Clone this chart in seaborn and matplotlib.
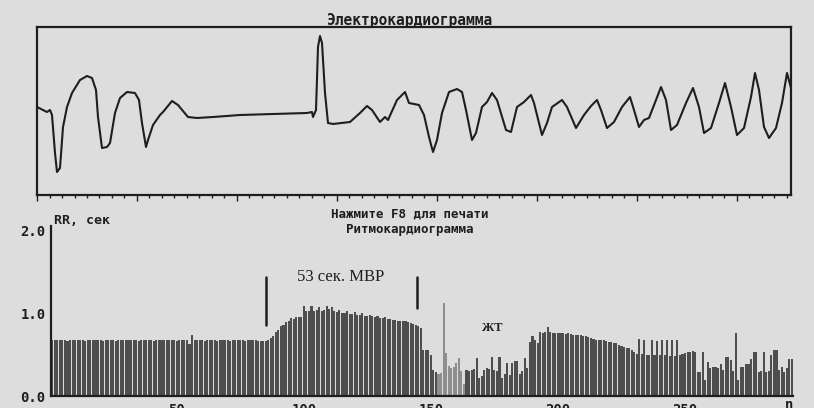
import matplotlib
matplotlib.use("Agg")
import matplotlib.pyplot as plt
from matplotlib.ticker import MultipleLocator
import pandas as pd
import seaborn as sns

# ---------------- data ----------------
# ECG trace vertices (sample position, amplitude in arbitrary units)
ecg_x = [0, 10, 13, 15, 18, 20, 23, 26, 30, 35, 43, 50, 55, 59, 61, 65, 70, 73, 78, 83,
         90, 98, 102, 105, 109, 111, 116, 123, 126, 135, 141, 151, 160, 176, 203, 236, 270,
         275, 276, 279, 281, 283, 285, 288, 291, 296, 313, 323, 330, 335, 343, 348, 351,
         360, 368, 372, 382, 387, 392, 396, 400, 405, 412, 420, 425, 429, 435, 439, 445,
         450, 455, 460, 469, 474, 480, 487, 494, 497, 505, 510, 515, 525, 530, 539, 547,
         554, 560, 564, 570, 577, 585, 593, 597, 602, 607, 612, 619, 624, 629, 634, 640,
         649, 656, 662, 667, 674, 682, 688, 694, 700, 707, 714, 718, 722, 727, 732, 739,
         745, 750, 754]
ecg_y = [88, 83, 85, 80, 42, 23, 27, 68, 88, 102, 115, 119, 117, 105, 78, 47, 48, 52, 82, 97,
         103, 102, 95, 72, 48, 55, 70, 80, 83, 94, 90, 78, 77, 78, 80, 81, 82,
         83, 78, 85, 148, 159, 152, 102, 72, 71, 73, 82, 89, 85, 73, 78, 75,
         95, 103, 92, 90, 80, 58, 43, 55, 82, 103, 106, 103, 85, 55, 62, 88,
         93, 102, 95, 65, 63, 88, 93, 100, 92, 60, 72, 88, 95, 88, 67, 80,
         89, 95, 85, 67, 73, 88, 98, 85, 68, 75, 77, 95, 108, 95, 65, 70,
         92, 107, 88, 62, 67, 92, 112, 88, 60, 67, 98, 122, 105, 68, 57, 67,
         92, 122, 107]

# RR intervals, seconds, one per beat
rr_values = [
    0.68, 0.67, 0.67, 0.68, 0.67, 0.67, 0.66, 0.67, 0.68, 0.67,
    0.67, 0.68, 0.67, 0.66, 0.67, 0.67, 0.68, 0.67, 0.67, 0.67,
    0.66, 0.67, 0.68, 0.67, 0.67, 0.66, 0.67, 0.67, 0.68, 0.67,
    0.67, 0.67, 0.68, 0.67, 0.66, 0.67, 0.67, 0.68, 0.67, 0.67,
    0.66, 0.67, 0.67, 0.68, 0.67, 0.67, 0.67, 0.68, 0.67, 0.66,
    0.67, 0.67, 0.68, 0.67,
    0.63, 0.73,
    0.67, 0.68, 0.67, 0.67, 0.66, 0.67, 0.68, 0.67, 0.67, 0.66,
    0.67, 0.67, 0.68, 0.67, 0.66, 0.67, 0.67, 0.68, 0.67, 0.67,
    0.66, 0.67, 0.67, 0.68, 0.67, 0.66, 0.66, 0.66, 0.66,
    0.67, 0.70, 0.72, 0.77, 0.80, 0.85, 0.86, 0.89, 0.90, 0.94,
    0.93, 0.95, 0.95, 0.95, 1.08, 1.02, 1.03, 1.08, 1.02, 1.04,
    1.07, 1.03, 1.04, 1.08, 1.05, 1.07, 1.03, 1.01, 1.04, 1.00,
    1.00, 1.02, 0.99, 0.99, 1.01, 0.98, 0.98, 1.00, 0.97, 0.97,
    0.98, 0.96, 0.95, 0.96, 0.94, 0.94, 0.95, 0.93, 0.93, 0.92,
    0.92, 0.91, 0.91, 0.90, 0.90, 0.89, 0.88, 0.87, 0.86, 0.84,
    0.82, 0.56, 0.55, 0.55, 0.50, 0.31, 0.29,
    0.27, 0.28, 1.12, 0.52, 0.36, 0.34, 0.35, 0.40, 0.46, 0.30, 0.15,
    0.31, 0.30, 0.31, 0.32, 0.46, 0.22, 0.24, 0.31, 0.34, 0.33,
    0.47, 0.31, 0.30, 0.47, 0.22, 0.27, 0.40, 0.25, 0.40, 0.42,
    0.42, 0.26, 0.30, 0.46, 0.34,
    0.65, 0.72, 0.68, 0.64, 0.77, 0.76, 0.77, 0.83, 0.77, 0.76,
    0.76, 0.76, 0.76, 0.76, 0.75, 0.76, 0.75,
    0.74, 0.74, 0.73, 0.73, 0.72, 0.72, 0.71, 0.70, 0.69, 0.68,
    0.68, 0.67, 0.67, 0.66, 0.65, 0.65, 0.64, 0.64, 0.62, 0.60,
    0.59, 0.58, 0.58, 0.55, 0.53,
    0.51, 0.69, 0.51, 0.68, 0.50, 0.50, 0.67, 0.50, 0.66, 0.49,
    0.67, 0.49, 0.67, 0.48, 0.67, 0.48, 0.67, 0.49, 0.51, 0.52,
    0.53, 0.53, 0.54, 0.53, 0.29, 0.29, 0.53, 0.19, 0.41, 0.34,
    0.35, 0.35, 0.34, 0.39, 0.31, 0.47, 0.47, 0.43, 0.30, 0.76,
    0.19, 0.35, 0.35, 0.38, 0.38, 0.45, 0.53, 0.53, 0.29, 0.30,
    0.53, 0.29, 0.30, 0.50, 0.56, 0.56, 0.31, 0.35, 0.29, 0.34,
    0.45, 0.45,
]
beats = list(range(1, len(rr_values) + 1))
vt_beats = list(range(153, 164))          # highlighted ЖТ episode (lighter bars)

x_tick_values = [50, 100, 150, 200, 250]
x_tick_labels = ["50", "100", "150", "200", "250"]
y_tick_values = [0.0, 1.0, 2.0]
y_tick_labels = ["0.0", "1.0", "2.0"]

title_ecg = "Электрокардиограмма"
title_hint = "Нажмите F8 для печати"
title_rr = "Ритмокардиограмма"
y_label = "RR, сек"
mvr_label = "53 сек. МВР"
vt_label = "ЖТ"

# ---------------- style ----------------
sns.set_theme(style="white")
BG = "#dddddd"
DARK = "#4e4e4e"
LIGHT = "#8e8e8e"
INK = "#1e1e1e"
plt.rcParams["font.family"] = ["DejaVu Sans Mono", "DejaVu Sans"]
mono = dict(family=["DejaVu Sans Mono", "DejaVu Sans"], weight="bold", color=INK)

W, H = 814, 408
fig = plt.figure(figsize=(W / 100, H / 100), dpi=100, facecolor=BG)

# ---------------- ECG panel ----------------
ax1 = fig.add_axes([37 / W, (H - 195) / H, 754 / W, 168 / H])
ax1.set_facecolor(BG)
ecg_df = pd.DataFrame({"t": ecg_x, "v": ecg_y})
sns.lineplot(data=ecg_df, x="t", y="v", ax=ax1, color=INK, linewidth=1.5, sort=False)
ax1.set_xlim(0, 754)
ax1.set_ylim(0, 168)
for s in ax1.spines.values():
    s.set_color(INK)
    s.set_linewidth(1.6)
ax1.xaxis.set_major_locator(MultipleLocator(100))
ax1.xaxis.set_minor_locator(MultipleLocator(12.5))
ax1.tick_params(axis="x", which="both", direction="out", bottom=True, labelbottom=False,
                colors=INK, width=1)
ax1.tick_params(axis="x", which="major", length=4)
ax1.tick_params(axis="x", which="minor", length=2.5)
ax1.set_yticks([])
ax1.set_xlabel("")
ax1.set_ylabel("")
fig.text(410 / W, 1 - 20 / H, title_ecg, ha="center", va="center", fontsize=10.5, **mono)

# ---------------- RR panel ----------------
ax2 = fig.add_axes([51 / W, 12 / H, 742 / W, 170 / H])
ax2.set_facecolor(BG)
rr_df = pd.DataFrame({
    "beat": beats,
    "rr": rr_values,
    "seg": ["vt" if b in vt_beats else "main" for b in beats],
})
sns.barplot(data=rr_df, x="beat", y="rr", hue="seg", palette={"main": DARK, "vt": LIGHT},
            native_scale=True, dodge=False, width=0.82, saturation=1, legend=False,
            linewidth=0, ax=ax2)
ax2.set_xlim(0.5, len(rr_values) + 0.5)
ax2.set_ylim(0, 2.05)
ax2.spines["top"].set_visible(False)
ax2.spines["right"].set_visible(False)
for side in ("left", "bottom"):
    ax2.spines[side].set_color(INK)
    ax2.spines[side].set_linewidth(1.6)
ax2.set_xticks(x_tick_values)
ax2.set_xticklabels(x_tick_labels, fontsize=10, **mono)
ax2.xaxis.set_minor_locator(MultipleLocator(10))
ax2.tick_params(axis="x", which="major", direction="out", length=4, width=1.2, pad=1, colors=INK)
ax2.tick_params(axis="x", which="minor", direction="out", length=2, width=1, colors=INK)
ax2.set_yticks(y_tick_values)
ax2.set_yticklabels(y_tick_labels, fontsize=10, **mono)
ax2.yaxis.set_minor_locator(MultipleLocator(0.2))
ax2.tick_params(axis="y", which="major", direction="out", length=3, width=1.2, pad=1, colors=INK)
ax2.tick_params(axis="y", which="minor", direction="out", length=2, width=1, colors=INK)
ax2.set_xlabel("")
ax2.set_ylabel("")
ax2.text(len(rr_values) - 1, -0.02, "n", ha="center", va="top", fontsize=10,
         transform=ax2.transData, clip_on=False, **mono)

fig.text(410 / W, 1 - 214 / H, title_hint, ha="center", va="center", fontsize=9, **mono)
fig.text(410 / W, 1 - 229 / H, title_rr, ha="center", va="center", fontsize=9, **mono)
fig.text(54 / W, 1 - 221 / H, y_label, ha="left", va="center", fontsize=9.5, **mono)

# annotations
ax2.plot([85.1, 85.1], [0.86, 1.43], color=INK, lw=1.8)
ax2.plot([144.6, 144.6], [1.06, 1.43], color=INK, lw=1.8)
ax2.text(114.5, 1.43, mvr_label, ha="center", va="center", fontsize=12,
         family=["Liberation Serif", "DejaVu Serif"], color=INK)
ax2.text(174, 0.82, vt_label, ha="center", va="center", fontsize=9, weight="bold",
         family=["Liberation Serif", "DejaVu Serif"], color=INK)

fig.savefig("out.png", dpi=100, facecolor=BG)
